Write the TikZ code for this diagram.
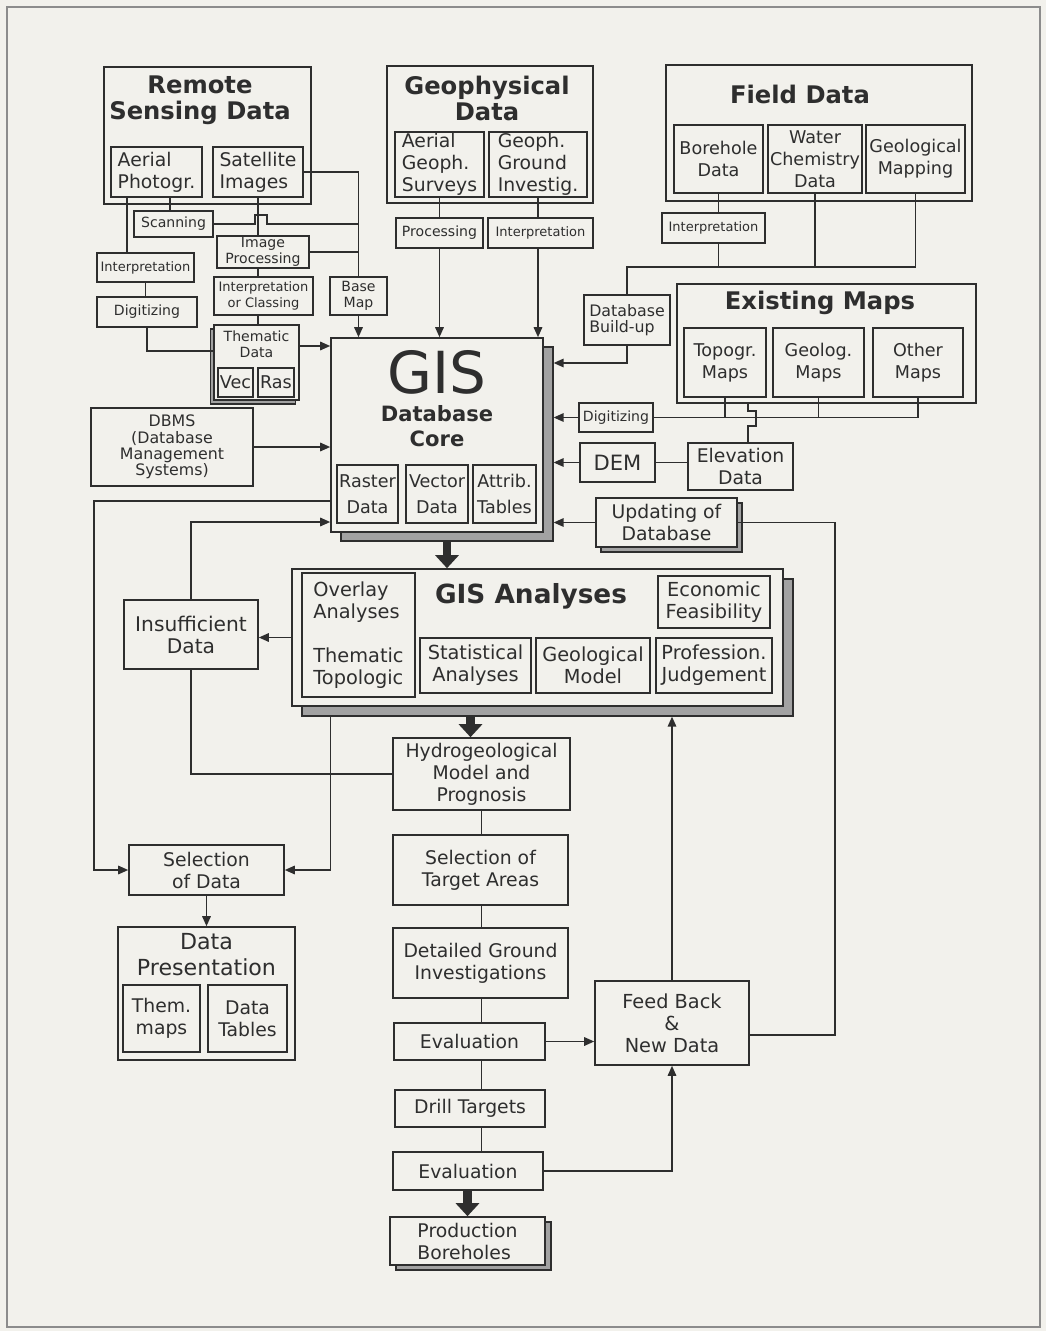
\documentclass[tikz,border=0pt]{standalone}
\usepackage{fontspec}
\setmainfont{DejaVu Sans}
\usepackage{tikz}
\usetikzlibrary{arrows.meta,positioning,calc}
\usepackage{xcolor}
\definecolor{gisink}{HTML}{2E2E2E}
\definecolor{gispaper}{HTML}{F2F1EC}
\definecolor{gisshadow}{HTML}{A2A2A2}
\definecolor{gisframe}{HTML}{8C8C8C}

\begin{document}
\begin{tikzpicture}[
    x=0.02cm, y=-0.02cm,
    color=gisink, line width=0.9pt,
    box/.style={rectangle, draw=gisink, fill=gispaper, line width=0.9pt,
                inner sep=0pt, align=center},
    shdw/.style={rectangle, draw=gisink, fill=gisshadow, line width=0.7pt,
                 inner sep=0pt},
    sz/.style 2 args={minimum width=#1*0.02cm, minimum height=#2*0.02cm},
    ttl/.style={font=\fontsize{13.8}{14.8}\selectfont\bfseries, align=center},
    med/.style={font=\fontsize{10.7}{12.5}\selectfont},
    fld/.style={font=\fontsize{10}{12.5}\selectfont},
    ana/.style={font=\fontsize{11}{12.5}\selectfont},
    cell/.style={font=\fontsize{10}{14.8}\selectfont},
    sml/.style={font=\fontsize{8}{9.2}\selectfont},
    xsml/.style={font=\fontsize{7.4}{9}\selectfont},
    arr/.style={-{Triangle[length=2mm,width=1.7mm]}},
    bigarr/.style={line width=5pt, -{Triangle[length=2.6mm,width=4.6mm]}}
]
\fill[gispaper] (0,0) rectangle (1046,1331);
\useasboundingbox (0,0) rectangle (1046,1331);
\draw[gisframe, line width=1.2pt] (7,7) rectangle (1040,1327);

\node[box, sz={207}{137}] (rs) at (207.5,135.5) {};
\node[ttl] (rsT) at (200,100) {Remote\\Sensing Data};
\node[box, sz={91}{50}, med, align=left] (aerial) at (156.5,172) {Aerial\\Photogr.};
\node[box, sz={90}{50}, med, align=left] (satel) at (258,172) {Satellite\\Images};
\node[box, sz={79}{26}, sml] (scan) at (173.5,224) {Scanning};
\node[box, sz={92}{32}, sml] (imgproc) at (263,252) {Image\\Processing};
\node[box, sz={97}{29}, xsml] (interpL) at (145.5,267.5) {Interpretation};
\node[box, sz={100}{30}, sml] (digitL) at (147,312) {Digitizing};
\node[box, sz={99}{38}, xsml] (classing) at (263.5,296) {Interpretation\\or Classing};
\node[box, sz={57}{38}, sml] (basemap) at (358.5,296) {Base\\Map};
\node[shdw, sz={85}{75}] (themS) at (253,366.5) {};
\node[box, sz={85}{75}] (thematic) at (256.5,362.5) {};
\node[sml, align=center] (themT) at (256.5,344) {Thematic\\Data};
\node[box, sz={35}{29}, font=\fontsize{10}{12}\selectfont] (vec) at (235.5,382.5) {Vec};
\node[box, sz={36}{29}, font=\fontsize{10}{12}\selectfont] (ras) at (276,382.5) {Ras};

\node[box, sz={206}{137}] (geo) at (490,134.5) {};
\node[ttl] (geoT) at (487,98) {Geophysical\\Data};
\node[box, sz={89}{65}, med, align=left] (aerialG) at (439.5,164.5) {Aerial\\Geoph.\\Surveys};
\node[box, sz={98}{65}, med, align=left] (groundG) at (538,164.5) {Geoph.\\Ground\\Investig.};
\node[box, sz={87}{30}, sml] (procG) at (439.5,233) {Processing};
\node[box, sz={105}{30}, xsml] (interpG) at (540.5,233) {Interpretation};

\node[box, sz={306}{136}] (fd) at (819,133) {};
\node[ttl] (fdT) at (800,94) {Field Data};
\node[box, sz={89}{68}, fld] (bore) at (718.5,159) {Borehole\\Data};
\node[box, sz={94}{68}, fld] (water) at (815,159) {Water\\Chemistry\\Data};
\node[box, sz={99}{68}, fld] (geomap) at (915.5,159) {Geological\\Mapping};
\node[box, sz={103}{30}, xsml] (interpF) at (713.5,228) {Interpretation};
\node[box, sz={86}{50}, font=\fontsize{9}{8.8}\selectfont, align=left] (dbb) at (627,320) {Database\\Build-up};

\node[box, sz={299}{119}] (em) at (826.5,343.5) {};
\node[ttl] (emT) at (820,303) {Existing Maps};
\node[box, sz={82}{69}, fld] (topo) at (725,362.5) {Topogr.\\Maps};
\node[box, sz={91}{69}, fld] (geolog) at (818.5,362.5) {Geolog.\\Maps};
\node[box, sz={90}{69}, fld] (other) at (918,362.5) {Other\\Maps};
\node[box, sz={74}{29}, sml] (digitR) at (616,417.5) {Digitizing};
\node[box, sz={75}{39}, font=\fontsize{12}{14}\selectfont] (dem) at (617.5,462.5) {DEM};
\node[box, sz={105}{47}, med] (elev) at (740.5,466.5) {Elevation\\Data};
\node[shdw, sz={141}{49}] (updS) at (671.5,527.5) {};
\node[box, sz={141}{49}, med] (upd) at (666.5,522.5) {Updating of\\Database};

\node[shdw, sz={212}{194}] (gisS) at (447,444) {};
\node[box, sz={212}{194}] (gis) at (437,435) {};
\node[font=\fontsize{33}{33}\selectfont] (gisT) at (437,372) {GIS};
\node[font=\fontsize{12}{14.2}\selectfont\bfseries, align=center] (gisDB) at (437,426) {Database\\Core};
\node[box, sz={61}{58}, cell] (raster) at (367.5,494) {Raster\\Data};
\node[box, sz={62}{58}, cell] (vector) at (437,494) {Vector\\Data};
\node[box, sz={63}{58}, cell] (attrib) at (504.5,494) {Attrib.\\Tables};

\node[box, sz={162}{78}, font=\fontsize{9}{9.3}\selectfont] (dbms) at (172,447) {DBMS\\(Database\\Management\\Systems)};

\node[shdw, sz={491}{137}] (gisAS) at (547.5,647.5) {};
\node[box, sz={491}{137}] (gisA) at (537.5,637.5) {};
\node[font=\fontsize{15}{15}\selectfont\bfseries] (gaT) at (531,596) {GIS Analyses};
\node[box, sz={113}{124}, ana, align=left] (ovl) at (358.5,635) {Overlay\\Analyses\\[12.5pt]Thematic\\Topologic};
\node[box, sz={112}{52}, ana] (econ) at (714,602) {Economic\\Feasibility};
\node[box, sz={111}{55}, ana] (stat) at (475.5,665.5) {Statistical\\Analyses};
\node[box, sz={114}{55}, ana] (geomod) at (593,665.5) {Geological\\Model};
\node[box, sz={116}{55}, ana] (prof) at (714,665.5) {Profession.\\Judgement};

\node[box, sz={134}{69}, font=\fontsize{11.5}{12.5}\selectfont] (ins) at (191,634.5) {Insufficient\\Data};
\node[box, sz={155}{50}, med] (seld) at (206.5,870) {Selection\\of Data};
\node[box, sz={177}{133}] (dpres) at (206.5,993.5) {};
\node[font=\fontsize{12.6}{14.8}\selectfont, align=center] (dpT) at (206.5,955) {Data\\Presentation};
\node[box, sz={77}{67}, med] (them) at (161.5,1018.5) {Them.\\maps};
\node[box, sz={79}{67}, med] (dtab) at (247.5,1018.5) {Data\\Tables};

\node[box, sz={177}{72}, med] (hydro) at (481.5,774) {Hydrogeological\\Model and\\Prognosis};
\node[box, sz={175}{70}, med] (tarsel) at (480.5,870) {Selection of\\Target Areas};
\node[box, sz={175}{70}, med] (detail) at (480.5,963) {Detailed Ground\\Investigations};
\node[box, sz={151}{37}, med] (eval1) at (469.5,1041.5) {Evaluation};
\node[box, sz={150}{37}, med] (drill) at (470,1108.5) {Drill Targets};
\node[box, sz={150}{38}, med] (eval2) at (468,1171) {Evaluation};
\node[shdw, sz={155}{48}] (prodS) at (473.5,1246) {};
\node[box, sz={155}{48}, med, align=left] (prod) at (467.5,1241) {Production\\Boreholes};
\node[box, sz={154}{84}, ana] (fb) at (672,1023) {Feed Back\\\&\\New Data};

\coordinate (aeL) at ($(aerial.south west)+(17,0)$);
\coordinate (aeR) at ($(aerial.south)+(13.5,0)$);
\draw (aeL) -- (aeL |- interpL.north);
\draw (aeR) -- (aeR |- scan.north);
\draw (scan.east) -- ++(41,0) -- ++(0,-9) -- ++(12,0) -- ++(0,9) -- (scan.east -| basemap.north);
\draw (satel.east) -| (basemap.north);
\draw (imgproc.east) -- (imgproc.east -| basemap.north);
\draw (satel.south) -- (satel.south |- imgproc.north);
\draw (satel.south |- imgproc.south) -- (satel.south |- classing.north);
\draw (satel.south |- classing.south) -- (satel.south |- thematic.north);
\draw (interpL.south) -- (interpL.south |- digitL.north);
\coordinate (thIn) at ($(thematic.west)+(0,-11.5)$);
\draw (digitL.south) |- (thIn);
\coordinate (thOut) at ($(thematic.east)+(0,-16.5)$);
\draw[arr] (thOut) -- (thOut -| gis.west);
\draw[arr] (basemap.south) -- (basemap.south |- gis.north);

\draw (aerialG.south) -- (procG.north);
\draw[arr] (procG.south) -- (procG.south |- gis.north);
\draw (groundG.south) -- (groundG.south |- interpG.north);
\draw[arr] (groundG.south |- interpG.south) -- (groundG.south |- gis.north);

\coordinate (fdRow) at (0,267);
\draw (bore.south) -- (bore.south |- interpF.north);
\draw (bore.south |- interpF.south) -- (bore.south |- fdRow);
\draw (water.south) -- (water.south |- fdRow);
\draw (geomap.south) |- (fdRow -| dbb.north) -- (dbb.north);
\coordinate (dbRow) at (0,363);
\draw[arr] (dbb.south) |- (dbRow -| gisS.east);

\draw (other.south) |- (digitR.east);
\draw (topo.south) -- (topo.south |- digitR.east);
\draw (geolog.south) -- (geolog.south |- digitR.east);
\draw[arr] (digitR.west) -- (digitR.west -| gisS.east);
\coordinate (elTop) at ($(em.south west)+(72,0)$);
\draw (elTop) -- ++(0,7) -- ++(8,0) -- ++(0,15) -- ++(-8,0) -- (elTop |- elev.north);
\draw (dem.east) -- (dem.east -| elev.west);
\draw[arr] (dem.west) -- (dem.west -| gisS.east);
\draw[arr] (upd.west) -- (upd.west -| gisS.east);
\draw[arr] (dbms.east) -- (dbms.east -| gis.west);

\coordinate (fbOut) at ($(fb.east)+(0,12)$);
\draw (fbOut) -| ($(upd.east)+(97,0)$) -- (upd.east);
\draw[arr] (fb.north) -- (fb.north |- gisAS.south);
\draw[arr] (eval1.east) -- (eval1.east -| fb.west);
\draw[arr] (eval2.east) -| (fb.south);

\draw[bigarr] (gisS.south) -- (gisS.south |- gisA.north);
\coordinate (haIn) at ($(gisAS.south)+(-77,0)$);
\draw[bigarr] (haIn) -- (haIn |- hydro.north);
\draw (hydro.south) -- (hydro.south |- tarsel.north);
\draw (hydro.south |- tarsel.south) -- (hydro.south |- detail.north);
\draw (hydro.south |- detail.south) -- (hydro.south |- eval1.north);
\draw (hydro.south |- eval1.south) -- (hydro.south |- drill.north);
\draw (hydro.south |- drill.south) -- (hydro.south |- eval2.north);
\draw[bigarr] (eval2.south -| prod.north) -- (prod.north);

\coordinate (gisOutL) at ($(gis.west)+(0,66)$);
\draw[arr] (gisOutL) -| ($(seld.west)+(-34,0)$) -- (seld.west);
\coordinate (gisInL) at ($(gis.west)+(0,87)$);
\draw[arr] (ins.north) |- (gisInL);
\draw (hydro.west) -| (ins.south);
\draw[arr] (gisA.west) -- (gisA.west -| ins.east);
\coordinate (gaOutL) at ($(gisAS.south west)+(29,0)$);
\draw[arr] (gaOutL) |- (seld.east);
\draw[arr] (seld.south) -- (dpres.north);
\end{tikzpicture}
\end{document}
